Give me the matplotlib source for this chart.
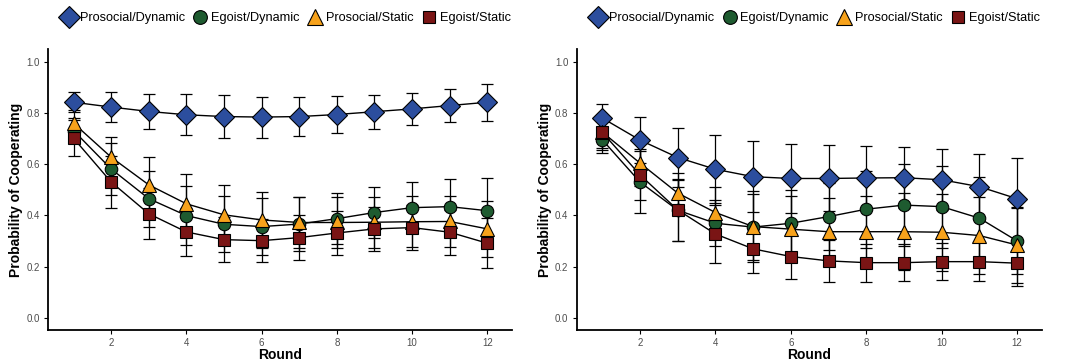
import matplotlib
matplotlib.use("Agg")
import matplotlib.pyplot as plt
from matplotlib.lines import Line2D

plt.rcParams["font.family"] = ["Liberation Sans", "DejaVu Sans"]

rounds = list(range(1, 13))
conditions = ["Prosocial/Dynamic", "Egoist/Dynamic", "Prosocial/Static", "Egoist/Static"]

# left panel: means and error half-widths
left_pd = [0.842, 0.823, 0.806, 0.793, 0.786, 0.784, 0.786, 0.794, 0.805, 0.816, 0.829, 0.842]
left_pd_err = [0.040, 0.060, 0.070, 0.080, 0.083, 0.080, 0.076, 0.072, 0.067, 0.064, 0.064, 0.072]
left_ed = [0.731, 0.581, 0.465, 0.399, 0.365, 0.356, 0.366, 0.387, 0.411, 0.430, 0.434, 0.418]
left_ed_err = [0.050, 0.100, 0.110, 0.115, 0.110, 0.110, 0.105, 0.100, 0.100, 0.100, 0.107, 0.127]
left_ps = [0.760, 0.627, 0.519, 0.445, 0.402, 0.382, 0.372, 0.372, 0.373, 0.375, 0.376, 0.347]
left_ps_err = [0.050, 0.080, 0.108, 0.117, 0.116, 0.110, 0.100, 0.100, 0.100, 0.100, 0.100, 0.110]
left_es = [0.701, 0.530, 0.406, 0.335, 0.305, 0.301, 0.313, 0.331, 0.347, 0.352, 0.334, 0.291]
left_es_err = [0.070, 0.100, 0.100, 0.094, 0.088, 0.084, 0.087, 0.086, 0.085, 0.087, 0.088, 0.097]

# right panel
right_pd = [0.780, 0.694, 0.626, 0.580, 0.551, 0.544, 0.544, 0.546, 0.547, 0.539, 0.512, 0.465]
right_pd_err = [0.056, 0.091, 0.117, 0.132, 0.139, 0.133, 0.129, 0.123, 0.119, 0.120, 0.129, 0.161]
right_ed = [0.695, 0.530, 0.420, 0.369, 0.354, 0.369, 0.395, 0.424, 0.440, 0.434, 0.389, 0.300]
right_ed_err = [0.050, 0.120, 0.120, 0.090, 0.130, 0.130, 0.130, 0.150, 0.160, 0.160, 0.160, 0.130]
right_ps = [0.725, 0.604, 0.487, 0.411, 0.356, 0.346, 0.336, 0.336, 0.336, 0.334, 0.321, 0.284]
right_ps_err = [0.060, 0.090, 0.080, 0.100, 0.140, 0.130, 0.130, 0.140, 0.150, 0.150, 0.150, 0.150]
right_es = [0.724, 0.558, 0.421, 0.327, 0.269, 0.239, 0.222, 0.215, 0.215, 0.219, 0.219, 0.213]
right_es_err = [0.070, 0.100, 0.120, 0.112, 0.095, 0.088, 0.081, 0.074, 0.072, 0.072, 0.076, 0.089]

styles = [
    dict(marker="D", color="#2c4e9e", ms=10.5),
    dict(marker="o", color="#1e5b30", ms=9.0),
    dict(marker="^", color="#f7a21b", ms=10.5),
    dict(marker="s", color="#7a1515", ms=8.5),
]

panels = [
    ([left_pd, left_ed, left_ps, left_es],
     [left_pd_err, left_ed_err, left_ps_err, left_es_err]),
    ([right_pd, right_ed, right_ps, right_es],
     [right_pd_err, right_ed_err, right_ps_err, right_es_err]),
]

fig = plt.figure(figsize=(10.67, 3.63), dpi=100)
axes = [fig.add_axes([0.045, 0.091, 0.435, 0.774]),
        fig.add_axes([0.5405, 0.091, 0.436, 0.774])]

for ax, (means, errs) in zip(axes, panels):
    for m, e in zip(means, errs):
        ax.errorbar(rounds, m, yerr=e, fmt="none", ecolor="black",
                    elinewidth=0.9, capsize=4, capthick=0.9, zorder=2)
    for m in means:
        ax.plot(rounds, m, color="black", lw=1.0, zorder=3)
    for m, st in zip(means, styles):
        ax.plot(rounds, m, linestyle="none", marker=st["marker"], ms=st["ms"],
                markerfacecolor=st["color"], markeredgecolor="black",
                markeredgewidth=0.8, zorder=4)

    ax.set_xlim(0.32, 12.66)
    ax.set_ylim(-0.048, 1.05)
    ax.set_xticks([2, 4, 6, 8, 10, 12])
    ax.set_yticks([0.0, 0.2, 0.4, 0.6, 0.8, 1.0])
    ax.set_yticklabels(["0.0", "0.2", "0.4", "0.6", "0.8", "1.0"])
    ax.tick_params(labelsize=7, colors="black", labelcolor="#4d4d4d",
                   length=3, width=0.8, pad=3)
    for side in ("top", "right"):
        ax.spines[side].set_visible(False)
    for side in ("left", "bottom"):
        ax.spines[side].set_linewidth(1.3)
    ax.set_xlabel("Round", fontsize=10, fontweight="bold", labelpad=0)
    ax.set_ylabel("Probability of Cooperating", fontsize=10, fontweight="bold", labelpad=2)

    handles = [Line2D([], [], linestyle="none", marker=st["marker"], ms=st["ms"] * 1.1,
                      markerfacecolor=st["color"], markeredgecolor="black",
                      markeredgewidth=0.8) for st in styles]
    ax.legend(handles, conditions, loc="center", bbox_to_anchor=(0.51, 1.11),
              ncol=4, frameon=False, fontsize=9.2, handletextpad=0.05,
              columnspacing=0.4, handlelength=1.6, borderaxespad=0)

fig.savefig("out.png", dpi=100)
